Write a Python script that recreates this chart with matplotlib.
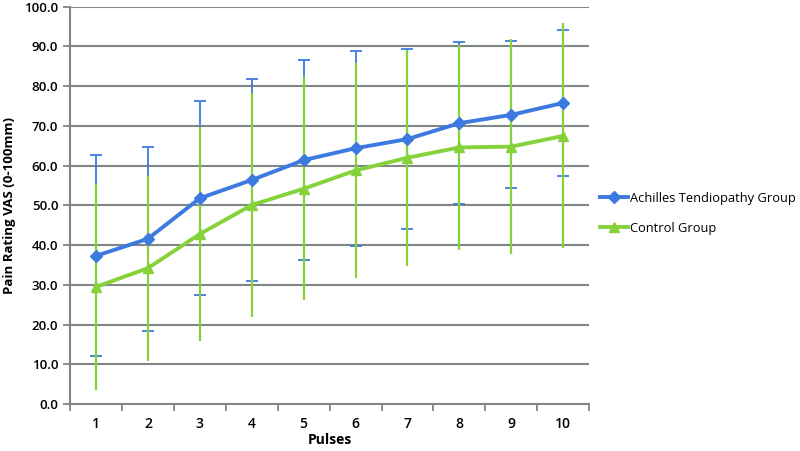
import numpy as np
import matplotlib
matplotlib.use("Agg")
import matplotlib.pyplot as plt

plt.rcParams["font.family"] = ["Open Sans", "DejaVu Sans"]

pulses = [1, 2, 3, 4, 5, 6, 7, 8, 9, 10]
achilles = [37.3, 41.6, 51.8, 56.4, 61.4, 64.4, 66.7, 70.7, 72.8, 75.8]
achilles_sd = [25.3, 23.1, 24.4, 25.3, 25.2, 24.5, 22.6, 20.4, 18.5, 18.3]
control = [29.5, 34.2, 42.8, 50.1, 54.2, 58.8, 62.0, 64.6, 64.8, 67.5]
control_sd = [26.0, 23.3, 27.0, 28.1, 28.1, 27.1, 27.2, 25.7, 27.0, 28.3]
yticks = np.arange(0, 101, 10)

blue = "#3d7ae0"
green = "#86d23a"
grid = "#7f8684"

fig = plt.figure(figsize=(8, 4.51), dpi=100)
ax = fig.add_axes([0.0875, 0.104, 0.649, 0.881])

ax.errorbar(pulses, achilles, yerr=achilles_sd, fmt="none", ecolor=blue,
            elinewidth=1.3, capsize=4, capthick=1.3, zorder=2)
ax.errorbar(pulses, control, yerr=control_sd, fmt="none", ecolor=green,
            elinewidth=1.6, capsize=0, zorder=3)
ax.plot(pulses, achilles, color=blue, lw=2.8, marker="D", ms=6,
        label="Achilles Tendiopathy Group", zorder=4)
ax.plot(pulses, control, color=green, lw=2.8, marker="^", ms=7.5,
        label="Control Group", zorder=4)

ax.set_xlim(0.5, 10.5)
ax.set_ylim(0, 100)
ax.set_yticks(yticks)
ax.set_yticklabels([f"{v:.1f}" for v in yticks])
ax.set_xticks(pulses)
ax.set_xticks(np.arange(0.5, 11, 1), minor=True)
ax.tick_params(axis="x", which="major", length=0, pad=9, labelsize=10)
ax.tick_params(axis="x", which="minor", length=5, color=grid, width=1.3)
ax.tick_params(axis="y", length=5, color=grid, width=1.3, labelsize=9.5)
for lbl in ax.get_yticklabels() + ax.get_xticklabels():
    lbl.set_fontweight("semibold")
ax.yaxis.grid(True, color=grid, lw=1.5)
ax.set_axisbelow(True)
for s in ["top", "right"]:
    ax.spines[s].set_visible(False)
for s in ["left", "bottom"]:
    ax.spines[s].set_color(grid)
    ax.spines[s].set_linewidth(1.5)

ax.set_xlabel("Pulses", fontweight="bold", fontsize=10, labelpad=2)
ax.set_ylabel("Pain Rating VAS (0-100mm)", fontweight="bold", fontsize=9.5, labelpad=6)

ax.legend(loc="center left", bbox_to_anchor=(0.998, 0.48), frameon=False,
          fontsize=9.3, handlelength=2.2, handletextpad=0.15, labelspacing=1.3)

fig.savefig("out.png", dpi=100)
